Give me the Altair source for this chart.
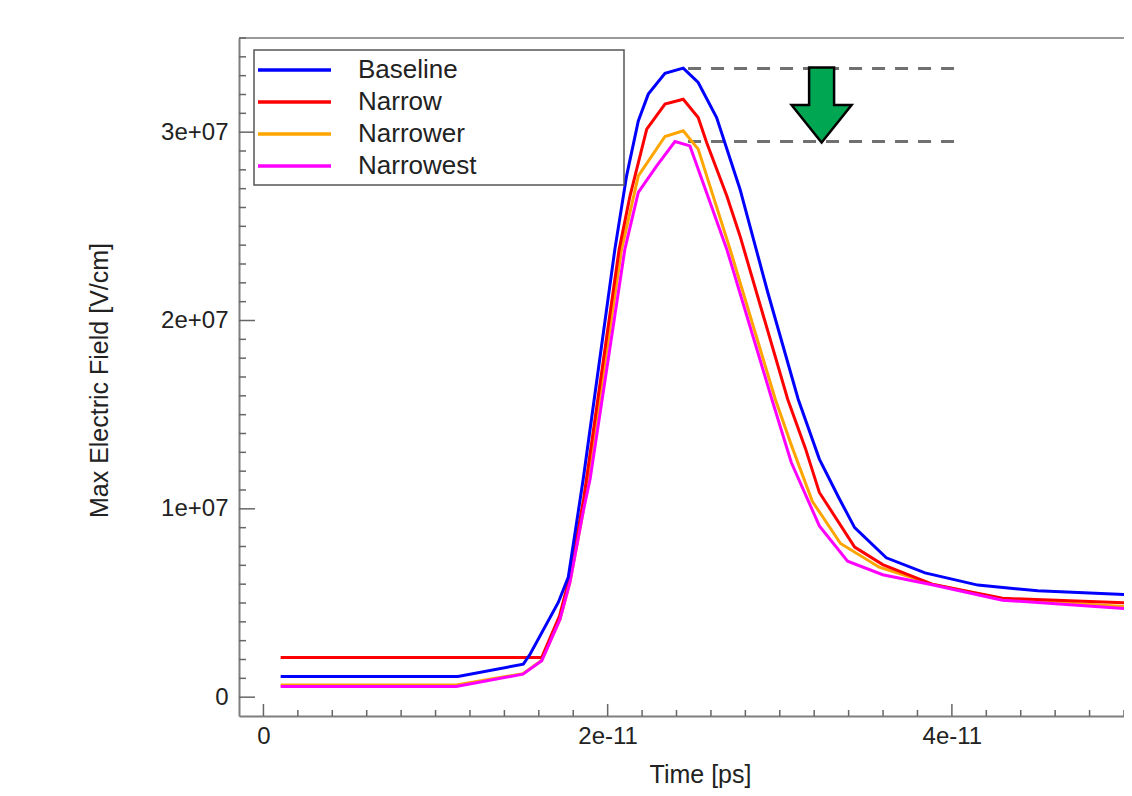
import json
import altair as alt
import pandas as pd

# ---------------- data (time in units of 1e-11 s, field in units of 1e7 V/cm) ----------------
series_names = ["Baseline", "Narrow", "Narrower", "Narrowest"]
series_colors = ["#0000FF", "#FF0000", "#FFA500", "#FF00FF"]

baseline_t = [0.1, 1.13, 1.51, 1.549, 1.713, 1.771, 1.858, 2.042, 2.110, 2.178, 2.236, 2.333,
              2.439, 2.526, 2.633, 2.769, 2.93, 3.107, 3.230, 3.343, 3.435, 3.619, 3.844,
              4.151, 4.499, 5.02]
baseline_v = [0.110, 0.110, 0.175, 0.228, 0.503, 0.636, 1.158, 2.379, 2.768, 3.060, 3.202, 3.313,
              3.340, 3.264, 3.078, 2.697, 2.15, 1.582, 1.264, 1.059, 0.900, 0.740, 0.660,
              0.595, 0.565, 0.545]

narrow_t = [0.1, 1.617, 1.72, 1.78, 1.86, 2.067, 2.130, 2.227, 2.333, 2.439, 2.526, 2.575,
            2.692, 2.769, 3.046, 3.149, 3.230, 3.435, 3.598, 3.885, 4.294, 5.02]
narrow_v = [0.211, 0.211, 0.43, 0.64, 1.05, 2.379, 2.662, 3.016, 3.149, 3.175, 3.078, 2.945,
            2.662, 2.449, 1.582, 1.321, 1.087, 0.797, 0.704, 0.600, 0.525, 0.50]

narrower_t = [0.1, 1.12, 1.508, 1.617, 1.723, 1.781, 1.857, 2.081, 2.178, 2.333, 2.439, 2.526,
              2.711, 2.974, 3.067, 3.189, 3.353, 3.578, 3.885, 4.294, 5.02]
narrower_v = [0.065, 0.065, 0.125, 0.196, 0.414, 0.611, 0.982, 2.379, 2.768, 2.977, 3.007, 2.910,
              2.379, 1.582, 1.339, 1.040, 0.816, 0.690, 0.600, 0.520, 0.48]

narrowest_t = [0.1, 1.12, 1.508, 1.617, 1.723, 1.781, 1.857, 1.898, 2.10, 2.178, 2.285, 2.391,
               2.478, 2.692, 2.954, 3.067, 3.230, 3.394, 3.598, 3.885, 4.294, 5.02]
narrowest_v = [0.057, 0.057, 0.122, 0.193, 0.414, 0.611, 0.982, 1.158, 2.379, 2.680, 2.821, 2.950,
               2.927, 2.379, 1.582, 1.246, 0.909, 0.722, 0.650, 0.597, 0.515, 0.47]

# annotation: dashed peak levels and their time span
peak_levels = [3.338, 2.95]
dash_t_start = 2.467
dash_t_end = 4.03
arrow_t = 3.243

# axes
x_domain = [-0.142, 5.0]
y_domain = [-0.1, 3.5]
x_tick_values = [0, 2, 4]
x_tick_labels = ["0", "2e-11", "4e-11"]
x_minor_ticks = [0.2 * i for i in range(0, 26) if i % 10]
y_tick_values = [0, 1, 2, 3]
y_tick_labels = ["0", "1e+07", "2e+07", "3e+07"]
y_minor_ticks = [0.1 * i for i in range(0, 36) if i % 10]

TS = 1e-11
FS = 1e7

# ---------------- layout / style ----------------
W, H = 885, 678
FONT = "Liberation Sans, Arial, sans-serif"
TXT = "#222222"
AXC = "#7f7f7f"

xs = alt.Scale(domain=[v * TS for v in x_domain], nice=False, zero=False)
ys = alt.Scale(domain=[v * FS for v in y_domain], nice=False, zero=False)

x_label_expr = f"{json.dumps(x_tick_labels)}[round(datum.value / {2 * TS})]"
y_label_expr = f"{json.dumps(y_tick_labels)}[round(datum.value / {FS})]"

x_axis = alt.Axis(values=[v * TS for v in x_tick_values], labelExpr=x_label_expr,
                  title="Time [ps]", titleX=461, titleY=66, titleBaseline="alphabetic",
                  titleFontSize=25)
y_axis = alt.Axis(values=[v * FS for v in y_tick_values], labelExpr=y_label_expr,
                  title="Max Electric Field [V/cm]", titleX=-127, titleY=342,
                  titleAngle=270, titleBaseline="bottom", labelPadding=11)


def X(field):
    return alt.X(field, scale=xs, axis=x_axis)


def Y(field):
    return alt.Y(field, scale=ys, axis=y_axis)


series_data = {
    "Baseline": (baseline_t, baseline_v),
    "Narrow": (narrow_t, narrow_v),
    "Narrower": (narrower_t, narrower_v),
    "Narrowest": (narrowest_t, narrowest_v),
}
color_of = dict(zip(series_names, series_colors))

layers = []

# top frame line
layers.append(
    alt.Chart(pd.DataFrame({"a": [0]})).mark_rule(color="#9a9a9a", strokeWidth=2).encode(
        x=alt.value(0), x2=alt.value(W), y=alt.value(0)
    )
)

# inner tick marks (y)
ymaj = pd.DataFrame({"v": [v * FS for v in y_tick_values]})
ymin = pd.DataFrame({"v": [v * FS for v in y_minor_ticks]})
layers.append(alt.Chart(ymaj).mark_rule(color="#666666", strokeWidth=1.5).encode(
    y=Y("v:Q"), x=alt.value(0), x2=alt.value(16)))
layers.append(alt.Chart(ymin).mark_rule(color="#666666", strokeWidth=1.5).encode(
    y=Y("v:Q"), x=alt.value(0), x2=alt.value(7)))

# inner tick marks (x)
xmaj = pd.DataFrame({"t": [v * TS for v in x_tick_values]})
xmin = pd.DataFrame({"t": [v * TS for v in x_minor_ticks]})
layers.append(alt.Chart(xmaj).mark_rule(color="#666666", strokeWidth=1.5).encode(
    x=X("t:Q"), y=alt.value(H), y2=alt.value(H - 12)))
layers.append(alt.Chart(xmin).mark_rule(color="#666666", strokeWidth=1.5).encode(
    x=X("t:Q"), y=alt.value(H), y2=alt.value(H - 6)))

# dashed peak levels
dash_df = pd.DataFrame({
    "t": [dash_t_start * TS] * len(peak_levels),
    "t2": [dash_t_end * TS] * len(peak_levels),
    "v": [p * FS for p in peak_levels],
})
layers.append(alt.Chart(dash_df).mark_rule(color="#707070", strokeWidth=3, strokeDash=[13, 10]).encode(
    x=X("t:Q"), x2="t2:Q", y=Y("v:Q")))

# series lines (draw order: orange, red, magenta, blue)
draw_order = ["Narrower", "Narrow", "Narrowest", "Baseline"]
for name in draw_order:
    t, v = series_data[name]
    df = pd.DataFrame({"t": [a * TS for a in t], "v": [b * FS for b in v]})
    layers.append(alt.Chart(df).mark_line(color=color_of[name], strokeWidth=3, clip=True).encode(
        x=X("t:Q"), y=Y("v:Q")))

# green down arrow between the two peak levels
arrow_df = pd.DataFrame({"t": [arrow_t * TS], "v": [(peak_levels[0] + peak_levels[1]) / 2 * FS]})
arrow_path = "M-0.333,-1L0.333,-1L0.333,0L0.8,0L0,1L-0.8,0L-0.333,0Z"
layers.append(alt.Chart(arrow_df).mark_point(
    shape=arrow_path, size=5625, filled=True, fill="#00A651", stroke="#000000",
    strokeWidth=2.5, opacity=1, fillOpacity=1).encode(
    x=X("t:Q"), y=Y("v:Q")))

# legend box
layers.append(alt.Chart(pd.DataFrame({"a": [0]})).mark_rect(
    fill="white", stroke="#555555", strokeWidth=1.5).encode(
    x=alt.value(15), x2=alt.value(385), y=alt.value(12), y2=alt.value(147)))
for i, name in enumerate(series_names):
    ypix = 32 + 32 * i
    layers.append(alt.Chart(pd.DataFrame({"a": [0]})).mark_rule(
        color=color_of[name], strokeWidth=3.5).encode(
        x=alt.value(19), x2=alt.value(92), y=alt.value(ypix)))
    layers.append(alt.Chart(pd.DataFrame({"label": [name]})).mark_text(
        align="left", baseline="middle", font=FONT, fontSize=26, color=TXT).encode(
        text="label:N", x=alt.value(119), y=alt.value(ypix)))

chart = alt.layer(*layers).properties(
    width=W, height=H,
    autosize=alt.AutoSizeParams(type="none"),
    padding={"left": 231, "top": 30, "right": 0, "bottom": 72},
).configure_view(stroke=None).configure_axis(
    grid=False, ticks=False, tickSize=0, domainColor=AXC, domainWidth=2,
    labelFont=FONT, labelFontSize=24, labelColor=TXT, labelPadding=8, labelFlush=False,
    titleFont=FONT, titleFontWeight="normal", titleColor=TXT, titleFontSize=26,
).configure_axisY(titleFontSize=25, labelPadding=11)

chart.save("out.html", embed_options={"renderer": "svg", "actions": False})
